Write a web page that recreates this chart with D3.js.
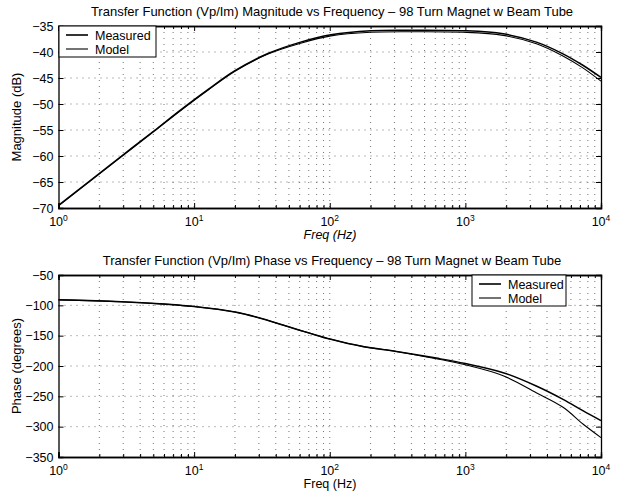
<!DOCTYPE html>
<html>
<head>
<meta charset="utf-8">
<script src="https://cdn.jsdelivr.net/npm/d3@7"></script>
<style>
  body { margin: 0; background: #fff; }
  svg { font-family: "Liberation Sans", Arial, sans-serif; }
</style>
</head>
<body>
<div id="chart"></div>
<script>
// frequencies (Hz)
const freqs = [1, 1.66, 2.92, 5.1, 8.1, 12.7, 20, 35, 61, 102, 200, 410, 960, 1900, 3340, 5200, 7300, 10000];

// magnitude (dB)
const magMeasured = [-69.5, -65.0, -60.0, -55.1, -51.0, -47.2, -43.6, -40.3, -38.1, -36.7, -35.9, -35.8, -35.9, -36.5, -38.1, -40.3, -42.5, -44.9];
const magModel    = [-69.6, -65.1, -60.1, -55.2, -51.1, -47.3, -43.7, -40.4, -38.3, -36.9, -36.2, -36.1, -36.2, -36.8, -38.4, -40.7, -43.0, -45.6];

const phaseFreqs = [1, 2.9, 6, 10, 20, 29.5, 49, 69, 102, 176, 310, 611, 1000, 1900, 3330, 5250, 7400, 10000];
const phaseMeasured = [-91, -94, -98, -102, -111, -120, -135, -145, -156, -168, -176, -187, -196, -211, -233, -255, -274, -290];
const phaseModel    = [-91, -94, -98, -102, -111, -120, -135, -145, -156, -168, -176, -188, -198, -216, -244, -268, -296, -318];

const xTicks = [1, 10, 100, 1000, 10000];
const magTicks = [-70, -65, -60, -55, -50, -45, -40, -35];
const phaseTicks = [-350, -300, -250, -200, -150, -100, -50];

const titles = [
  "Transfer Function (Vp/Im) Magnitude vs Frequency \u2013 98 Turn Magnet w Beam Tube",
  "Transfer Function (Vp/Im) Phase vs Frequency \u2013 98 Turn Magnet w Beam Tube"
];

const W = 617, H = 495;
const svg = d3.select("#chart").append("svg").attr("width", W).attr("height", H);

const x = d3.scaleLog().domain([1, 10000]).range([58.5, 601]);
const minorX = [];
for (let d = 1; d < 10000; d *= 10) for (let k = 2; k <= 9; k++) minorX.push(d * k);

function panel(cfg) {
  const y = d3.scaleLinear().domain(cfg.domain).range([cfg.bottom, cfg.top]);
  const g = svg.append("g");
  const x0 = x.range()[0], x1 = x.range()[1];

  // dotted grid
  const grid = g.append("g").attr("stroke", "#000").attr("stroke-width", 0.9)
    .attr("stroke-dasharray", "1,5").attr("opacity", 0.6);
  grid.selectAll(".gx").data(minorX.concat(xTicks.slice(1, -1))).join("line")
    .attr("x1", d => x(d)).attr("x2", d => x(d)).attr("y1", cfg.top).attr("y2", cfg.bottom);
  grid.selectAll(".gy").data(cfg.ticks.slice(1, -1)).join("line")
    .attr("y1", d => y(d)).attr("y2", d => y(d)).attr("x1", x0).attr("x2", x1);

  // axes
  const bottomAxis = d3.axisBottom(x).tickValues(xTicks).tickSize(-5).tickFormat("");
  const bottomMinor = d3.axisBottom(x).tickValues(minorX).tickSize(-3).tickFormat("");
  const topAxis = d3.axisTop(x).tickValues(xTicks).tickSize(-5).tickFormat("");
  const topMinor = d3.axisTop(x).tickValues(minorX).tickSize(-3).tickFormat("");
  const leftAxis = d3.axisLeft(y).tickValues(cfg.ticks).tickSize(-5).tickFormat("");
  const rightAxis = d3.axisRight(y).tickValues(cfg.ticks).tickSize(-5).tickFormat("");

  [[bottomAxis, `translate(0,${cfg.bottom})`], [bottomMinor, `translate(0,${cfg.bottom})`],
   [topAxis, `translate(0,${cfg.top})`], [topMinor, `translate(0,${cfg.top})`],
   [leftAxis, `translate(${x0},0)`], [rightAxis, `translate(${x1},0)`]].forEach(([ax, t]) => {
    const a = g.append("g").attr("transform", t).call(ax);
    a.select(".domain").attr("stroke", "#000").attr("stroke-width", 1.3);
    a.selectAll(".tick line").attr("stroke", "#000").attr("stroke-width", 1);
  });

  // tick labels
  g.selectAll(".yl").data(cfg.ticks).join("text")
    .attr("x", x0 - 5).attr("y", d => y(d) + 4.5)
    .attr("text-anchor", "end").attr("font-size", 12.5)
    .text(d => d3.format("d")(d).replace("-", "\u2212"));

  const xl = g.selectAll(".xl").data(xTicks).join("text")
    .attr("x", d => x(d)).attr("y", cfg.bottom + 18)
    .attr("text-anchor", "middle").attr("font-size", 12.5);
  xl.append("tspan").text("10");
  xl.append("tspan").attr("dy", -5).attr("font-size", 8.5).text(d => Math.round(Math.log10(d)));

  // title and labels
  g.append("text").attr("x", 332).attr("y", cfg.top - 10).attr("text-anchor", "middle")
    .attr("font-size", 13).text(cfg.title);
  g.append("text").attr("x", 330).attr("y", cfg.bottom + 31).attr("text-anchor", "middle")
    .attr("font-size", 12.5).attr("font-style", cfg.italic ? "italic" : "normal").text("Freq  (Hz)");
  g.append("text").attr("transform", `translate(21,${(cfg.top + cfg.bottom) / 2}) rotate(-90)`)
    .attr("text-anchor", "middle").attr("font-size", 13).text(cfg.ylabel);

  // curves
  const line = d3.line().x(d => x(d[0])).y(d => y(d[1])).curve(d3.curveCatmullRom.alpha(0.5));
  g.append("path").datum(d3.zip(cfg.fx, cfg.model)).attr("d", line)
    .attr("fill", "none").attr("stroke", "#000").attr("stroke-width", 1.1);
  g.append("path").datum(d3.zip(cfg.fx, cfg.measured)).attr("d", line)
    .attr("fill", "none").attr("stroke", "#000").attr("stroke-width", 1.5);

  // legend
  const L = cfg.legend;
  const lg = g.append("g").attr("transform", `translate(${L.x},${L.y})`);
  lg.append("rect").attr("width", L.w).attr("height", 31).attr("fill", "#fff")
    .attr("stroke", "#000").attr("stroke-width", 1);
  [["Measured", 1.6], ["Model", 1.1]].forEach(([name, sw], i) => {
    const yy = 9 + i * 14;
    lg.append("line").attr("x1", 7).attr("x2", 29).attr("y1", yy).attr("y2", yy)
      .attr("stroke", "#000").attr("stroke-width", sw);
    lg.append("text").attr("x", 36).attr("y", yy + 4.5).attr("font-size", 12.5).text(name);
  });
}

panel({
  domain: [-70, -35], top: 26, bottom: 208, ticks: magTicks, title: titles[0],
  ylabel: "Magnitude  (dB)", italic: true, fx: freqs, measured: magMeasured, model: magModel,
  legend: { x: 59, y: 26, w: 97 }
});

panel({
  domain: [-350, -50], top: 275, bottom: 457, ticks: phaseTicks, title: titles[1],
  ylabel: "Phase  (degrees)", italic: false, fx: phaseFreqs, measured: phaseMeasured, model: phaseModel,
  legend: { x: 472, y: 275, w: 94 }
});
</script>
</body>
</html>
